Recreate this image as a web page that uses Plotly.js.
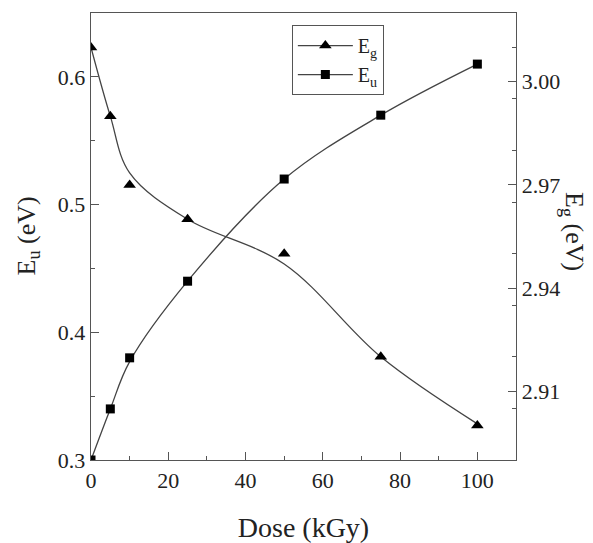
<!DOCTYPE html>
<html>
<head>
<meta charset="utf-8">
<script src="https://cdn.plot.ly/plotly-3.0.1.min.js"></script>
<style>html,body{margin:0;padding:0;background:#fff;}</style>
</head>
<body>
<div id="chart" style="width:593px;height:543px;"></div>
<script>
const dose = [0, 5, 10, 25, 50, 75, 100];                     // kGy
const eu   = [0.30, 0.34, 0.38, 0.44, 0.52, 0.57, 0.61];      // Urbach energy, eV (left axis)
const eg   = [3.010, 2.990, 2.970, 2.960, 2.950, 2.920, 2.900]; // band gap, eV (right axis)

// Fitted curves (same doses)
const egFit = [3.010, 2.990, 2.9735, 2.960, 2.947, 2.920, 2.9005];
const euFit = [0.300, 0.340, 0.377, 0.440, 0.520, 0.570, 0.610];

const xTickVals = [0, 20, 40, 60, 80, 100];
const euTickVals = [0.3, 0.4, 0.5, 0.6];
const egTickVals = [2.91, 2.94, 2.97, 3.00];
const seriesNames = ['E<sub>g</sub>', 'E<sub>u</sub>'];

const axisColor = '#555';
const lineColor = '#444';
const textColor = '#222';
const font = 'Liberation Serif';

const lineStyle = {shape: 'spline', smoothing: 1, color: lineColor, width: 1.3};
const egMarker = {symbol: 'triangle-up', size: 11, color: '#000'};
const euMarker = {symbol: 'square', size: 9, color: '#000'};

const traces = [
  // fitted curves
  {x: dose, y: egFit, yaxis: 'y2', type: 'scatter', mode: 'lines', line: lineStyle, showlegend: false, hoverinfo: 'skip'},
  {x: dose, y: euFit, yaxis: 'y', type: 'scatter', mode: 'lines', line: lineStyle, showlegend: false, hoverinfo: 'skip'},
  // measured points
  {x: dose, y: eg, yaxis: 'y2', type: 'scatter', mode: 'markers', marker: egMarker, showlegend: false},
  {x: dose, y: eu, yaxis: 'y', type: 'scatter', mode: 'markers', marker: euMarker, showlegend: false},
  // legend entries (line + symbol)
  {x: [null], y: [null], yaxis: 'y2', type: 'scatter', mode: 'lines+markers', name: seriesNames[0], line: {color: lineColor, width: 1.3}, marker: egMarker},
  {x: [null], y: [null], yaxis: 'y', type: 'scatter', mode: 'lines+markers', name: seriesNames[1], line: {color: lineColor, width: 1.3}, marker: euMarker}
];

const common = {
  ticks: 'inside', ticklen: 8, tickwidth: 1, tickcolor: axisColor,
  showline: true, linecolor: axisColor, linewidth: 1.3,
  showgrid: false, zeroline: false,
  tickfont: {family: font, size: 22, color: textColor}
};

const layout = {
  width: 593, height: 543,
  margin: {l: 91, r: 77, t: 13, b: 83},
  paper_bgcolor: '#fff', plot_bgcolor: '#fff',
  font: {family: font, color: textColor},
  showlegend: true,
  xaxis: Object.assign({}, common, {
    range: [0, 110], tickvals: xTickVals, mirror: true,
    minor: {ticks: 'inside', ticklen: 4, tickwidth: 1, tickcolor: axisColor, dtick: 10, tick0: 0, showgrid: false},
    title: {text: 'Dose (kGy)', font: {family: font, size: 28, color: textColor}, standoff: 26},
    automargin: false
  }),
  yaxis: Object.assign({}, common, {
    range: [0.3, 0.65], tickvals: euTickVals, tickformat: '.1f',
    minor: {ticks: 'inside', ticklen: 4, tickwidth: 1, tickcolor: axisColor, dtick: 0.05, tick0: 0.3, showgrid: false},
    automargin: false
  }),
  yaxis2: Object.assign({}, common, {
    overlaying: 'y', side: 'right',
    range: [2.89, 3.02], tickvals: egTickVals, tickformat: '.2f',
    minor: {ticks: 'inside', ticklen: 4, tickwidth: 1, tickcolor: axisColor, dtick: 0.015, tick0: 2.89, showgrid: false},
    automargin: false
  }),
  legend: {
    x: 0.4726, y: 0.973, xanchor: 'left', yanchor: 'top',
    bordercolor: axisColor, borderwidth: 1, bgcolor: '#fff',
    font: {family: font, size: 20, color: textColor},
    itemwidth: 55, tracegroupgap: 0
  },
  annotations: [
    {
      text: 'E<sub>u</sub> (eV)', xref: 'paper', yref: 'paper',
      x: (27 - 91) / 425, y: 0.5, xanchor: 'center', yanchor: 'middle',
      textangle: -90, showarrow: false,
      font: {family: font, size: 26, color: textColor}
    },
    {
      text: 'E<sub>g</sub> (eV)', xref: 'paper', yref: 'paper',
      x: (573 - 91) / 425, y: (460 - 231) / 447, xanchor: 'center', yanchor: 'middle',
      textangle: 90, showarrow: false,
      font: {family: font, size: 26, color: textColor}
    }
  ]
};

Plotly.newPlot('chart', traces, layout, {displayModeBar: false, staticPlot: true});
</script>
</body>
</html>
